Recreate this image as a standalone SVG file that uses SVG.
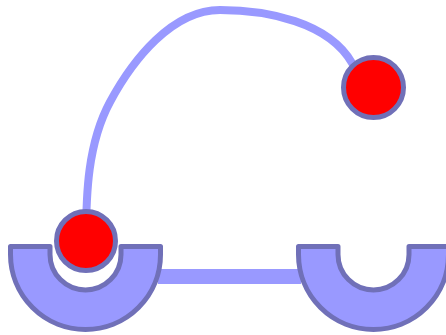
<svg xmlns="http://www.w3.org/2000/svg" width="446" height="335" viewBox="0 0 446 335">
<style>
.conn{fill:none;stroke:#9999ff}
.cup{fill:#9999ff;stroke:#7070b8;stroke-width:5;stroke-linejoin:round}
.ball{fill:#ff0000;stroke:#7070b8;stroke-width:5}
</style>
<defs>
<path id="cupShape" d="M10.5,246.5 L50,246.5 L50,254.5 A35.5,35.5 0 0 0 121,254.5 L121,246.5 L160.5,246.5 L160.5,254.5 A75,75 0 0 1 10.5,254.5 Z"/>
</defs>
<g id="connectors">
<line class="conn" x1="158" y1="276.5" x2="301" y2="276.5" stroke-width="15"/>
<path class="conn" stroke-width="8" d="M86,241 C86,194 87.7,143.4 110,102 C132.8,59.8 172,10 220,10 C267,10 328.5,22 352,63 L365,80"/>
</g>
<g id="cup-left"><use href="#cupShape" class="cup"/></g>
<g id="cup-right"><use href="#cupShape" class="cup" transform="translate(288,0)"/></g>
<g id="ball-left"><circle class="ball" cx="86" cy="241" r="29.5"/></g>
<g id="ball-right"><circle class="ball" cx="373.5" cy="87.5" r="30"/></g>
</svg>
